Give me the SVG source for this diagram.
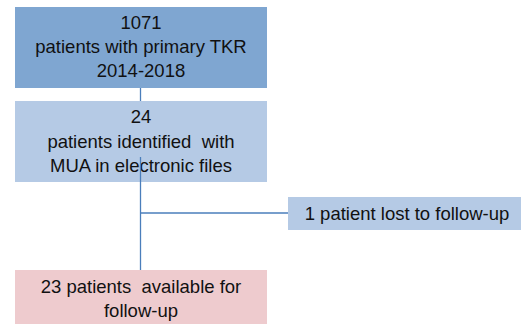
<svg xmlns="http://www.w3.org/2000/svg" width="521" height="324" viewBox="0 0 521 324">
<style>
text{font-family:"Liberation Sans","Open Sans",sans-serif;font-size:18.5px;fill:#111;text-anchor:middle}
.c{stroke:#4a7ebb;stroke-width:1.3;fill:none}
</style>
<rect width="521" height="324" fill="#fff"/>
<g id="connectors">
<line class="c" x1="140.5" y1="88" x2="140.5" y2="101"/>
<line class="c" x1="140.5" y1="157" x2="140.5" y2="270"/>
<line class="c" x1="140.5" y1="213" x2="288" y2="213"/>
</g>
<g id="n1">
<rect x="15" y="7" width="252" height="81" fill="#7fa6d1"/>
<text x="141" y="29">1071</text>
<text x="141" y="53">patients with primary TKR</text>
<text x="141" y="77">2014-2018</text>
</g>
<g id="n2">
<rect x="15" y="101" width="252" height="81" fill="#b5cae5"/>
<text x="141" y="123">24</text>
<text x="141" y="148" xml:space="preserve">patients identified  with</text>
<text x="141" y="172">MUA in electronic files</text>
</g>
<line class="c" x1="140.5" y1="157" x2="140.5" y2="182"/>
<g id="n3">
<rect x="288" y="197" width="233" height="33" fill="#b5cae5"/>
<text x="407" y="220">1 patient lost to follow-up</text>
</g>
<g id="n4">
<rect x="15" y="270" width="252" height="54" fill="#eecbce"/>
<text x="141" y="293" xml:space="preserve">23 patients  available for</text>
<text x="141" y="317">follow-up</text>
</g>
</svg>
